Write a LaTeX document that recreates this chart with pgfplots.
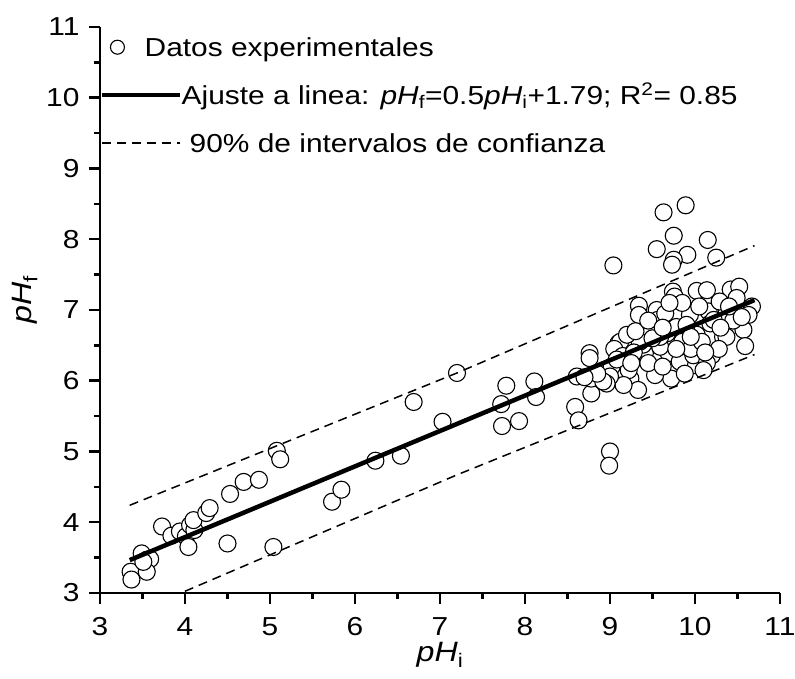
\documentclass[border=0pt]{standalone}
\usepackage{fontspec}
\setmainfont{Liberation Sans}[FakeStretch=1.15]
\usepackage{pgfplots}
\usepackage{pgfplotstable}
\pgfplotsset{compat=1.18}
\pgfplotstableread{
x y
3.36 3.30
3.37 3.19
3.49 3.56
3.55 3.47
3.59 3.48
3.55 3.30
3.51 3.44
3.73 3.94
3.84 3.81
3.94 3.87
4.01 3.80
4.04 3.65
4.06 3.96
4.11 3.89
4.10 4.03
4.25 4.13
4.29 4.20
4.50 3.70
4.53 4.40
4.69 4.57
4.87 4.60
5.04 3.65
5.08 5.01
5.12 4.89
5.73 4.29
5.84 4.46
6.24 4.87
6.54 4.94
6.69 5.70
7.20 6.11
7.03 5.42
7.78 5.93
7.72 5.67
7.73 5.36
7.93 5.43
8.11 5.99
8.13 5.77
9.00 5.00
8.99 4.80
9.89 8.48
9.63 8.38
9.75 8.05
10.15 7.99
9.55 7.86
9.91 7.78
9.75 7.71
9.73 7.64
10.25 7.74
9.04 7.63
9.34 7.06
9.34 6.93
9.55 7.00
9.76 6.93
9.94 6.93
10.16 6.98
10.37 6.95
10.67 7.05
10.63 6.93
9.47 6.74
9.67 6.67
9.78 6.76
10.02 6.65
10.18 6.81
10.33 6.62
10.57 6.72
10.59 6.49
10.20 6.36
10.00 6.22
9.69 6.39
9.82 6.27
9.72 6.03
9.53 6.08
9.41 6.39
9.39 6.51
9.59 6.48
9.24 6.03
9.22 6.15
9.33 5.87
9.16 5.94
9.10 6.53
9.02 6.20
9.00 6.06
8.96 5.96
8.78 5.82
8.78 6.03
8.76 6.39
8.76 6.32
8.61 6.06
8.59 5.63
8.63 5.44
8.92 5.99
9.98 6.36
10.14 6.25
9.74 7.26
9.76 7.19
10.02 7.27
10.14 7.28
10.42 7.29
10.52 7.33
10.29 7.12
10.49 7.17
9.56 6.86
10.22 6.86
9.12 6.55
9.35 6.55
9.59 6.62
10.37 6.62
9.90 6.79
9.05 6.45
9.15 6.35
9.28 6.40
9.45 6.25
9.62 6.20
9.85 6.55
9.95 6.45
10.08 6.55
10.28 6.45
10.45 6.85
10.40 7.05
9.65 6.95
9.85 7.10
10.05 7.05
9.20 6.65
9.30 6.70
9.50 6.60
9.88 6.10
10.10 6.15
9.70 7.10
9.08 6.30
9.78 6.45
10.30 6.75
9.45 6.85
9.62 6.75
8.85 6.10
8.70 6.05
9.25 6.25
10.12 6.40
9.95 6.62
10.55 6.90
}\datatable
\begin{document}
\begin{tikzpicture}
\begin{axis}[
  at={(0pt,0pt)}, anchor=south west,
  scale only axis, width=680pt, height=566pt,
  xmin=3, xmax=11, ymin=3, ymax=11,
  axis x line=bottom, axis y line=left,
  axis line style={-, line width=2.5pt},
  every outer x axis line/.append style={-, line width=2.5pt},
  every outer y axis line/.append style={-, line width=2.5pt},
  xtick={3,...,11}, ytick={3,...,11},
  minor tick num=1,
  tick align=outside,
  major tick length=11pt, minor tick length=6pt,
  tick style={line width=2.5pt, black},
  /pgf/number format/assume math mode=true,
  ticklabel style={font=\fontsize{26}{30}\selectfont},
  xticklabel style={yshift=-10pt},
  yticklabel style={xshift=-6pt},
  xlabel={\textit{pH}\textsubscript{i}},
  ylabel={\textit{pH}\textsubscript{f}},
  label style={font=\fontsize{28}{32}\selectfont},
  xlabel style={at={(axis description cs:0.5,0)}, anchor=center, yshift=-62pt},
  ylabel style={at={(axis description cs:0,0.518)}, anchor=center, yshift=75pt},
  clip mode=individual,
  legend cell align=left,
  legend style={at={(axis description cs:0,1)}, anchor=north west, yshift=-9pt,
    draw=none, fill=none, inner sep=0pt, row sep=26pt, column sep=-1pt,
    font=\fontsize{26}{30}\selectfont,
    nodes={inner sep=0pt, text height=20pt, text depth=2pt}},
]
\addplot[only marks, mark=*, mark size=8.5pt,
  mark options={draw=black, fill=white, line width=1.1pt},
  legend image code/.code={\draw[black, fill=white, line width=1.1pt] (15pt,0pt) circle (7pt);}]
  table[x=x, y=y] {\datatable};
\addlegendentry{\hspace*{-37pt}Datos experimentales}
\addplot[black, line width=4.5pt,
  legend image code/.code={\draw[black, line width=4.5pt] (0pt,0pt) -- (78pt,0pt);}]
  coordinates {(3.35,3.465) (10.7,7.14)};
\addlegendentry{Ajuste a linea: \textit{pH}\textsubscript{f}=0.5\textit{pH}\textsubscript{i}+1.79; R\textsuperscript{2}= 0.85}
\addplot[black, line width=1.5pt, dash pattern=on 9pt off 6pt,
  legend image code/.code={\draw[black, line width=1.5pt, dash pattern=on 9pt off 6pt] (0pt,0pt) -- (78pt,0pt);}]
  coordinates {(3.35,4.24) (7.2,6.11) (10.7,7.91)};
\addlegendentry{\hspace*{8pt}90\% de intervalos de confianza}
\addplot[black, line width=1.5pt, dash pattern=on 9pt off 6pt, forget plot]
  coordinates {(3.35,2.69) (7.2,4.67) (10.7,6.37)};
\end{axis}
\pgfresetboundingbox
\path (-100pt,-86pt) rectangle (695pt,593pt);
\end{tikzpicture}
\end{document}
